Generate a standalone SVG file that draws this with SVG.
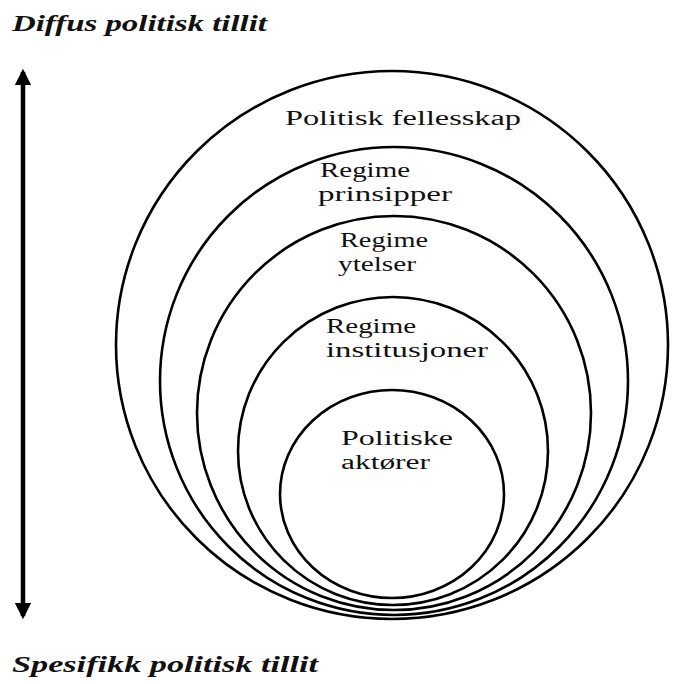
<svg xmlns="http://www.w3.org/2000/svg" width="680" height="684" viewBox="0 0 680 684">
  <style>
    .ring { fill: none; stroke: #000; stroke-width: 2.6; }
    .lbl { font-family: "Liberation Serif", "DejaVu Serif", "Times New Roman", serif; font-size: 20.5px; fill: #111; }
    .title { font-family: "Liberation Serif", "DejaVu Serif", "Times New Roman", serif; font-size: 24px; font-weight: bold; font-style: italic; fill: #111; }
  </style>
  <defs>
    <marker id="ah" viewBox="0 0 10 10" refX="8" refY="5" markerWidth="3.6" markerHeight="3.6" orient="auto-start-reverse" markerUnits="strokeWidth">
      <path d="M0,0 L10,5 L0,10 Z" fill="#000"/>
    </marker>
  </defs>
  <rect width="680" height="684" fill="#fff"/>

  <text class="title" x="12" y="31" textLength="255" lengthAdjust="spacingAndGlyphs">Diffus politisk tillit</text>
  <text class="title" x="12" y="672" textLength="306" lengthAdjust="spacingAndGlyphs">Spesifikk politisk tillit</text>

  <g id="connectors">
    <line x1="23" y1="72" x2="23" y2="616" stroke="#000" stroke-width="4.5" marker-start="url(#ah)" marker-end="url(#ah)"/>
  </g>

  <g id="politisk-fellesskap">
    <ellipse class="ring" cx="392" cy="345" rx="276" ry="274"/>
    <text class="lbl" x="285" y="125" textLength="236" lengthAdjust="spacingAndGlyphs">Politisk fellesskap</text>
  </g>
  <g id="regime-prinsipper">
    <ellipse class="ring" cx="394" cy="381" rx="234" ry="234"/>
    <text class="lbl" x="320" y="177" textLength="90" lengthAdjust="spacingAndGlyphs">Regime</text>
    <text class="lbl" x="318" y="201" textLength="134" lengthAdjust="spacingAndGlyphs">prinsipper</text>
  </g>
  <g id="regime-ytelser">
    <ellipse class="ring" cx="394" cy="413" rx="197" ry="197"/>
    <text class="lbl" x="340" y="247" textLength="88" lengthAdjust="spacingAndGlyphs">Regime</text>
    <text class="lbl" x="338" y="271" textLength="78" lengthAdjust="spacingAndGlyphs">ytelser</text>
  </g>
  <g id="regime-institusjoner">
    <ellipse class="ring" cx="393" cy="451" rx="155" ry="154"/>
    <text class="lbl" x="326" y="333" textLength="90" lengthAdjust="spacingAndGlyphs">Regime</text>
    <text class="lbl" x="326" y="357" textLength="162" lengthAdjust="spacingAndGlyphs">institusjoner</text>
  </g>
  <g id="politiske-aktorer">
    <ellipse class="ring" cx="392" cy="494" rx="112" ry="104"/>
    <text class="lbl" x="341" y="445" textLength="112" lengthAdjust="spacingAndGlyphs">Politiske</text>
    <text class="lbl" x="341" y="469" textLength="89" lengthAdjust="spacingAndGlyphs">aktører</text>
  </g>
</svg>
